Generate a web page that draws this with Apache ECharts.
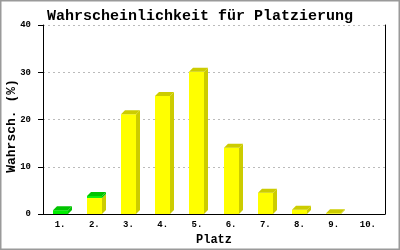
<!DOCTYPE html>
<html><head><meta charset="utf-8">
<script src="https://cdn.jsdelivr.net/npm/echarts@6/dist/echarts.min.js"></script>
<style>html,body{margin:0;padding:0;background:#fff}#c{width:400px;height:250px}</style>
</head><body><div id="c"></div>
<script>
const categories = ['1.','2.','3.','4.','5.','6.','7.','8.','9.','10.'];
const yellowValues = [0, 3.4, 21.1, 25.0, 30.1, 14.0, 4.5, 0.9, 0.15, 0];
const greenValues = [0.8, 0.4, 0, 0, 0, 0, 0, 0, 0, 0];
const yTicks = [0, 10, 20, 30, 40];
const yName = 'Wahrsch. (%)';

const FONT = '"Liberation Mono", "DejaVu Sans Mono", monospace';
const chart = echarts.init(document.getElementById('c'), null, {renderer:'canvas'});
const data = categories.map((c, i) => [i, yellowValues[i], greenValues[i]]);

function renderItem(params, api) {
  const i = api.value(0), yv = api.value(1), gv = api.value(2);
  const band = api.size([1, 0])[0];
  const w = Math.round(band * 0.44), d = 4;
  const base = api.coord([i, 0]);
  const x0 = Math.round(base[0] - w / 2);
  const children = [];
  function seg(from, to, front, dark) {
    const top = api.coord([i, to])[1], bot = api.coord([i, from])[1];
    children.push({type:'polygon', shape:{points:[[x0+w,bot],[x0+w+d,bot-d],[x0+w+d,top-d],[x0+w,top]]}, style:{fill:dark}});
    children.push({type:'rect', shape:{x:x0, y:top, width:w, height:bot-top}, style:{fill:front}});
  }
  let topColor = null, total = yv + gv;
  if (yv > 0) { seg(0, yv, '#ffff00', '#cccc00'); topColor = '#cccc00'; }
  if (gv > 0) { seg(yv, yv + gv, '#00ee00', '#00c400'); topColor = '#00c400'; }
  if (topColor) {
    const t = api.coord([i, total])[1];
    children.push({type:'polygon', shape:{points:[[x0,t],[x0+d,t-d],[x0+w+d,t-d],[x0+w,t]]}, style:{fill:topColor}});
  }
  return {type:'group', children};
}

chart.setOption({
  animation:false,
  backgroundColor:'#fff',
  title:{text:'Wahrscheinlichkeit für Platzierung', left:'center', top:4,
    textStyle:{fontFamily:FONT, fontSize:15, fontWeight:'bold', color:'#000'}},
  grid:{left:43, right:15, top:25, bottom:36, containLabel:false, outerBoundsMode:'none'},
  xAxis:{type:'category', data:categories, boundaryGap:true,
    name:'Platz', nameLocation:'middle', nameGap:20, nameMoveOverlap:false,
    nameTextStyle:{fontFamily:FONT, fontSize:12, fontWeight:'bold', color:'#000'},
    axisLine:{lineStyle:{color:'#000', width:1}}, axisTick:{show:false},
    axisLabel:{fontFamily:FONT, fontSize:9, fontWeight:'bold', color:'#000', margin:6}},
  yAxis:[{type:'value', min:yTicks[0], max:yTicks[yTicks.length-1], interval:10,
    axisLine:{show:true, lineStyle:{color:'#000'}},
    axisTick:{show:true, length:5, lineStyle:{color:'#000'}},
    axisLabel:{fontFamily:FONT, fontSize:9, fontWeight:'bold', color:'#000', margin:12},
    splitLine:{show:true, lineStyle:{color:'#bbb', type:[2,3]}}},
   {type:'value', position:'right', min:0, max:40, interval:10,
    axisLine:{show:true, lineStyle:{color:'#000'}}, axisTick:{show:false},
    axisLabel:{show:false}, splitLine:{show:false}}],
  graphic:[
    {type:'text', x:12, y:126, rotation:Math.PI/2,
     style:{text:yName, fontFamily:FONT, fontSize:13, fontWeight:'bold', fill:'#000', align:'center', verticalAlign:'middle'}},
    {type:'rect', shape:{x:0, y:0, width:400, height:250}, style:{fill:null, stroke:'#9a9a9a', lineWidth:3}, z:100}],
  series:[{type:'custom', renderItem, data, encode:{x:0, y:[1,2]}, clip:false}]
});
</script></body></html>
